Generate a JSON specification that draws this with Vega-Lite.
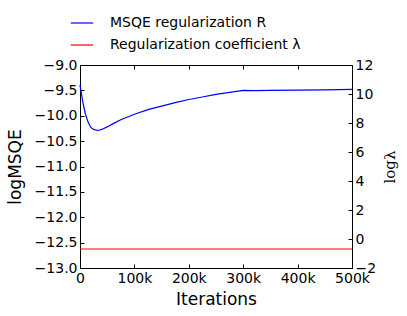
{
  "$schema": "https://vega.github.io/schema/vega-lite/v6.json",
  "width": 272,
  "height": 203,
  "autosize": "none",
  "padding": {"left": 80, "top": 65, "right": 55, "bottom": 48},
  "config": {
    "font": "DejaVu Sans",
    "view": {"stroke": "black", "strokeWidth": 1},
    "axis": {
      "domainColor": "black",
      "tickColor": "black",
      "labelColor": "black",
      "titleColor": "black",
      "grid": false,
      "labelFont": "DejaVu Sans",
      "titleFont": "DejaVu Sans",
      "labelFontSize": 14,
      "titleFontSize": 17,
      "titleFontWeight": "normal",
      "tickSize": -4,
      "labelPadding": 7,
      "labelFlush": false,
      "labelOverlap": false
    },
    "legend": {"labelFont": "DejaVu Sans", "labelFontSize": 14, "labelColor": "black"}
  },
  "data": {
    "values": [
      {"it": 0, "v": -9.39, "s": "MSQE regularization R"},
      {"it": 5000, "v": -9.72, "s": "MSQE regularization R"},
      {"it": 10000, "v": -9.97, "s": "MSQE regularization R"},
      {"it": 15000, "v": -10.13, "s": "MSQE regularization R"},
      {"it": 20000, "v": -10.23, "s": "MSQE regularization R"},
      {"it": 25000, "v": -10.27, "s": "MSQE regularization R"},
      {"it": 33000, "v": -10.29, "s": "MSQE regularization R"},
      {"it": 40000, "v": -10.27, "s": "MSQE regularization R"},
      {"it": 50000, "v": -10.22, "s": "MSQE regularization R"},
      {"it": 60000, "v": -10.16, "s": "MSQE regularization R"},
      {"it": 75000, "v": -10.08, "s": "MSQE regularization R"},
      {"it": 100000, "v": -9.97, "s": "MSQE regularization R"},
      {"it": 125000, "v": -9.88, "s": "MSQE regularization R"},
      {"it": 150000, "v": -9.81, "s": "MSQE regularization R"},
      {"it": 175000, "v": -9.74, "s": "MSQE regularization R"},
      {"it": 200000, "v": -9.68, "s": "MSQE regularization R"},
      {"it": 225000, "v": -9.63, "s": "MSQE regularization R"},
      {"it": 250000, "v": -9.58, "s": "MSQE regularization R"},
      {"it": 275000, "v": -9.54, "s": "MSQE regularization R"},
      {"it": 300000, "v": -9.5, "s": "MSQE regularization R"},
      {"it": 320000, "v": -9.505, "s": "MSQE regularization R"},
      {"it": 350000, "v": -9.5, "s": "MSQE regularization R"},
      {"it": 400000, "v": -9.495, "s": "MSQE regularization R"},
      {"it": 450000, "v": -9.49, "s": "MSQE regularization R"},
      {"it": 500000, "v": -9.48, "s": "MSQE regularization R"},
      {"it": 0, "l": -0.69, "s": "Regularization coefficient λ"},
      {"it": 500000, "l": -0.69, "s": "Regularization coefficient λ"}
    ]
  },
  "encoding": {
    "x": {
      "field": "it", "type": "quantitative",
      "scale": {"domain": [0, 500000], "nice": false, "zero": false},
      "axis": {"values": [0, 100000, 200000, 300000, 400000, 500000], "labelExpr": "datum.value == 0 ? '0' : (datum.value / 1000) + 'k'", "title": "Iterations", "titlePadding": 6}
    },
    "color": {
      "field": "s", "type": "nominal",
      "scale": {"domain": ["MSQE regularization R", "Regularization coefficient λ"], "range": ["#0000ff", "#ff0000"]},
      "legend": {
        "title": null, "orient": "none", "legendX": -10, "legendY": -54,
        "symbolType": "stroke", "symbolSize": 500, "symbolStrokeWidth": 1.2, "symbolOpacity": 1,
        "labelOffset": 16, "rowPadding": 3, "padding": 0, "labelLimit": 400
      }
    }
  },
  "layer": [
    {
      "transform": [{"filter": "datum.v != null"}],
      "mark": {"type": "line", "strokeWidth": 1.2},
      "encoding": {
        "y": {
          "field": "v", "type": "quantitative",
          "scale": {"domain": [-13, -9], "nice": false, "zero": false},
          "axis": {"values": [-13, -12.5, -12, -11.5, -11, -10.5, -10, -9.5, -9], "format": ".1f", "title": "logMSQE", "titlePadding": 10}
        }
      }
    },
    {
      "transform": [{"filter": "datum.l != null"}],
      "mark": {"type": "line", "strokeWidth": 1.2},
      "encoding": {
        "x": {
          "field": "it", "type": "quantitative",
          "scale": {"domain": [0, 500000], "nice": false, "zero": false},
          "axis": {"orient": "top", "values": [0, 100000, 200000, 300000, 400000, 500000], "labels": false, "title": null, "domain": false}
        },
        "y": {
          "field": "l", "type": "quantitative",
          "scale": {"domain": [-2, 12], "nice": false, "zero": false},
          "axis": {"orient": "right", "values": [-2, 0, 2, 4, 6, 8, 10, 12], "format": "d", "title": "logλ", "titleFont": "DejaVu Serif", "titleFontSize": 15, "titleAngle": -90, "titlePadding": 22}
        }
      }
    }
  ],
  "resolve": {"scale": {"y": "independent"}, "axis": {"x": "independent", "y": "independent"}}
}
